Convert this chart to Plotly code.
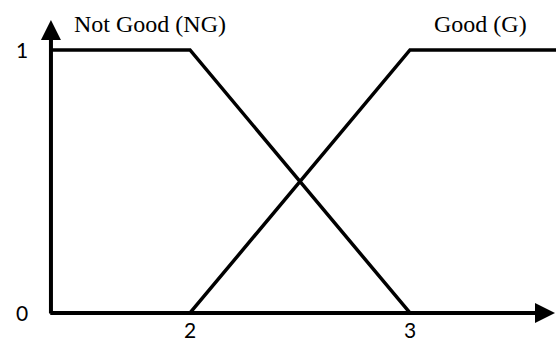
import plotly.graph_objects as go

# Membership functions
ng_x = [1.368, 2, 3]
ng_y = [1, 1, 0]
g_x = [2, 3, 3.67]
g_y = [0, 1, 1]

x_ticks = [2, 3]
y_ticks = [0, 1]
series_names = ["Not Good (NG)", "Good (G)"]

X0, X1 = 1.1364, 3.6636
Y0, Y1 = -0.1065, 1.190
AX_X = 1.368
XTIP = 3.659
YTIP = 1.114

fig = go.Figure()
for xs, ys in [(ng_x, ng_y), (g_x, g_y)]:
    fig.add_trace(go.Scatter(x=xs, y=ys, mode="lines",
                             line=dict(color="black", width=3.5),
                             showlegend=False, hoverinfo="skip"))

# axes with arrows
fig.add_annotation(x=XTIP, y=0, ax=AX_X - 0.01, ay=0, xref="x", yref="y",
                   axref="x", ayref="y", showarrow=True, arrowhead=2,
                   arrowsize=1.0, arrowwidth=4, arrowcolor="black", text="")
fig.add_annotation(x=AX_X, y=YTIP, ax=AX_X, ay=-0.008, xref="x", yref="y",
                   axref="x", ayref="y", showarrow=True, arrowhead=2,
                   arrowsize=1.0, arrowwidth=4, arrowcolor="black", text="")

tick_font = dict(family="Lato", size=21, color="black")
for v in y_ticks:
    fig.add_annotation(x=1.2364, y=v, text=str(v), showarrow=False,
                       font=tick_font, xanchor="center", yanchor="middle")
for v in x_ticks:
    fig.add_annotation(x=v, y=-0.0646, text=str(v), showarrow=False,
                       font=tick_font, xanchor="center", yanchor="middle")

lab_font = dict(family="Liberation Serif", size=24, color="black")
fig.add_annotation(x=1.82, y=1.098, text=series_names[0], showarrow=False,
                   font=lab_font, xanchor="center", yanchor="middle")
fig.add_annotation(x=3.32, y=1.098, text=series_names[1], showarrow=False,
                   font=lab_font, xanchor="center", yanchor="middle")

fig.update_xaxes(range=[X0, X1], visible=False, fixedrange=True)
fig.update_yaxes(range=[Y0, Y1], visible=False, fixedrange=True)
fig.update_layout(width=556, height=341, margin=dict(l=0, r=0, t=0, b=0),
                  plot_bgcolor="white", paper_bgcolor="white")
fig.write_html("out.html", config={"displayModeBar": False},
               post_script="document.body.style.margin='0px';document.body.style.overflow='hidden';")
